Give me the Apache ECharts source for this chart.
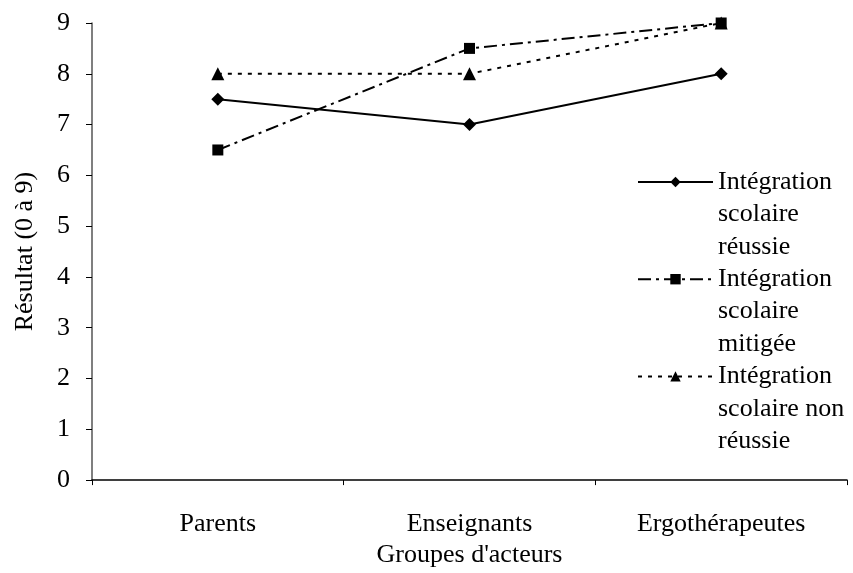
<!DOCTYPE html>
<html><head><meta charset="utf-8">
<script src="https://cdn.jsdelivr.net/npm/echarts@6/dist/echarts.min.js"></script>
<style>html,body{margin:0;padding:0;background:#fff}#c{width:853px;height:573px}</style>
</head><body><div id="c"></div>
<script>
const categories = ['Parents', 'Enseignants', 'Ergothérapeutes'];
const reussie = [7.5, 7, 8];
const mitigee = [6.5, 8.5, 9];
const nonReussie = [8, 8, 9];
const seriesNames = ['Intégration\nscolaire\nréussie', 'Intégration\nscolaire\nmitigée', 'Intégration\nscolaire non\nréussie'];
const yTicks = [0, 9, 1];

const font = 'Liberation Serif, Times New Roman, serif';
const FS = 26;
const LH = 32.4;
const chart = echarts.init(document.getElementById('c'));
chart.setOption({
  animation: false,
  backgroundColor: '#fff',
  textStyle: { fontFamily: font },
  grid: { left: 92, right: 6, top: 23, bottom: 83 },
  legend: {
    orient: 'vertical',
    left: 632,
    top: 96,
    itemWidth: 75,
    itemHeight: 13,
    itemGap: -2 * LH,
    data: seriesNames,
    formatter: function (n) { return '\n\n' + n; },
    textStyle: { fontFamily: font, fontSize: FS, color: '#000', lineHeight: LH }
  },
  xAxis: {
    type: 'category',
    data: categories,
    boundaryGap: true,
    name: "Groupes d'acteurs",
    nameLocation: 'middle',
    nameGap: 54,
    nameTextStyle: { fontFamily: font, fontSize: FS, color: '#000' },
    axisLine: { lineStyle: { color: '#000', width: 1.5 } },
    axisTick: { show: true, length: 5, lineStyle: { color: '#000' } },
    axisLabel: { fontFamily: font, fontSize: FS, color: '#000', margin: 31 }
  },
  yAxis: {
    type: 'value',
    min: yTicks[0], max: yTicks[1], interval: yTicks[2],
    name: 'Résultat (0 à 9)',
    nameLocation: 'middle',
    nameGap: 54,
    nameTextStyle: { fontFamily: font, fontSize: FS, color: '#000' },
    axisLine: { show: true, lineStyle: { color: '#555', width: 1.5 } },
    axisTick: { show: true, length: 6, lineStyle: { color: '#000' } },
    axisLabel: { fontFamily: font, fontSize: FS, color: '#000', margin: 22 },
    splitLine: { show: false }
  },
  series: [
    { name: seriesNames[0], type: 'line', data: reussie, symbol: 'diamond', symbolSize: 13,
      itemStyle: { color: '#000' }, lineStyle: { color: '#000', width: 2, type: 'solid' } },
    { name: seriesNames[1], type: 'line', data: mitigee, symbol: 'rect', symbolSize: 11,
      itemStyle: { color: '#000' }, lineStyle: { color: '#000', width: 2, type: [13, 5, 3, 5] } },
    { name: seriesNames[2], type: 'line', data: nonReussie, symbol: 'triangle', symbolSize: 13,
      itemStyle: { color: '#000' }, lineStyle: { color: '#000', width: 2, type: [4, 6] } }
  ]
});
</script></body></html>
